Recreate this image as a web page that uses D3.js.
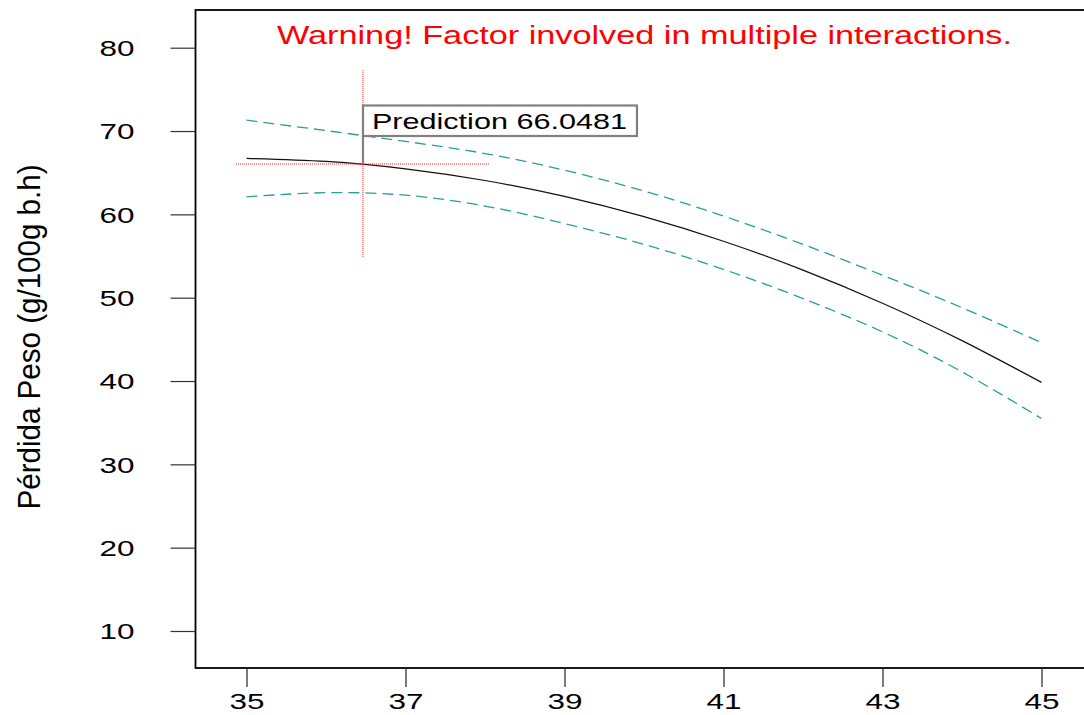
<!DOCTYPE html>
<html>
<head>
<meta charset="utf-8">
<script src="https://cdn.jsdelivr.net/npm/d3@7"></script>
<style>
  html, body { margin: 0; padding: 0; background: #fff; }
  svg { display: block; }
  text { font-family: Arial, "Liberation Sans", sans-serif; }
</style>
</head>
<body>
<svg id="chart" width="1084" height="715"></svg>
<script>
// Factor levels along the x axis
const xValues = [35, 36, 37, 38, 39, 40, 41, 42, 43, 44, 45];
// Predicted response and its confidence band
const predicted = [66.72, 66.35, 65.46, 64.06, 62.15, 59.72, 56.77, 53.31, 49.34, 44.85, 39.84];
const upperBand = [71.3, 70.05, 68.75, 67.3, 65.3, 62.8, 59.8, 56.4, 52.7, 48.8, 44.6];
const lowerBand = [62.1, 62.6, 62.3, 61.0, 58.9, 56.4, 53.4, 49.9, 45.9, 41.1, 35.5];
// Probed point
const probeX = 36.465;
const probeY = 66.0481;
// Axis ticks
const xTicks = [35, 37, 39, 41, 43, 45];
const yTicks = [10, 20, 30, 40, 50, 60, 70, 80];

const titleText = "Warning! Factor involved in multiple interactions.";
const yAxisTitle = "Pérdida Peso (g/100g b.h)";

const svg = d3.select("#chart");

const frame = { left: 195.5, top: 10, bottom: 668, right: 1200 };

const x = d3.scaleLinear().domain([35, 45]).range([246.5, 1041.5]);
const y = d3.scaleLinear().domain([10, 80]).range([631, 47.7]);

// Plot frame (right side runs past the page edge)
svg.append("rect")
  .attr("x", frame.left).attr("y", frame.top)
  .attr("width", frame.right - frame.left).attr("height", frame.bottom - frame.top)
  .attr("fill", "none").attr("stroke", "#000").attr("stroke-width", 1.8);

// Y axis
const yAxis = svg.append("g")
  .attr("transform", `translate(${frame.left},0)`)
  .call(d3.axisLeft(y).tickValues(yTicks).tickSize(25).tickPadding(36).tickFormat(d3.format("d")));
yAxis.select(".domain").remove();
yAxis.selectAll(".tick line").attr("stroke", "#333").attr("stroke-width", 1.2);
yAxis.selectAll(".tick text")
  .attr("font-size", 22).attr("fill", "#000")
  .attr("textLength", 35).attr("lengthAdjust", "spacingAndGlyphs")
  .attr("dy", "0.36em");

// X axis
const xAxis = svg.append("g")
  .attr("transform", `translate(0,${frame.bottom})`)
  .call(d3.axisBottom(x).tickValues(xTicks).tickSize(19).tickPadding(8).tickFormat(d3.format("d")));
xAxis.select(".domain").remove();
xAxis.selectAll(".tick line").attr("stroke", "#222").attr("stroke-width", 1.2);
xAxis.selectAll(".tick text")
  .attr("font-size", 21.5).attr("fill", "#000")
  .attr("textLength", 35).attr("lengthAdjust", "spacingAndGlyphs")
  .attr("dy", "0.64em");

// Y axis title
svg.append("text")
  .attr("transform", "translate(40,337) rotate(-90)")
  .attr("text-anchor", "middle")
  .attr("font-size", 32)
  .attr("textLength", 345).attr("lengthAdjust", "spacingAndGlyphs")
  .attr("fill", "#000")
  .text(yAxisTitle);

// Warning title
svg.append("text")
  .attr("x", 277).attr("y", 43.5)
  .attr("font-size", 25)
  .attr("textLength", 735).attr("lengthAdjust", "spacingAndGlyphs")
  .attr("fill", "#ff0000")
  .text(titleText);

// Curves
const pts = arr => xValues.map((v, i) => [v, arr[i]]);
const line = d3.line().x(d => x(d[0])).y(d => y(d[1])).curve(d3.curveNatural);

svg.append("path").datum(pts(upperBand)).attr("d", line)
  .attr("fill", "none").attr("stroke", "#2a9d9d").attr("stroke-width", 1.3)
  .attr("stroke-dasharray", "11,6");
svg.append("path").datum(pts(lowerBand)).attr("d", line)
  .attr("fill", "none").attr("stroke", "#2a9d9d").attr("stroke-width", 1.3)
  .attr("stroke-dasharray", "11,6");
svg.append("path").datum(pts(predicted)).attr("d", line)
  .attr("fill", "none").attr("stroke", "#111").attr("stroke-width", 1.2);

// Crosshair at the probed point
const px = x(probeX), py = y(probeY);
svg.append("line")
  .attr("x1", px).attr("x2", px).attr("y1", py - 94).attr("y2", py + 93)
  .attr("stroke", "#ff2020").attr("stroke-width", 1).attr("stroke-dasharray", "1,1");
svg.append("line")
  .attr("x1", px - 127).attr("x2", px + 127).attr("y1", py).attr("y2", py)
  .attr("stroke", "#ff2020").attr("stroke-width", 1).attr("stroke-dasharray", "1,1");

// Prediction callout
const boxTop = 105.5, boxH = 30.5, boxW = 274;
svg.append("line")
  .attr("x1", px).attr("x2", px).attr("y1", boxTop + boxH).attr("y2", py)
  .attr("stroke", "#808080").attr("stroke-width", 2.2);
svg.append("rect")
  .attr("x", px).attr("y", boxTop).attr("width", boxW).attr("height", boxH)
  .attr("fill", "#fff").attr("stroke", "#808080").attr("stroke-width", 2.2);
svg.append("text")
  .attr("x", px + 9).attr("y", boxTop + 23.5)
  .attr("font-size", 21.5)
  .attr("textLength", 255).attr("lengthAdjust", "spacingAndGlyphs")
  .attr("fill", "#000")
  .text("Prediction " + d3.format(".4f")(probeY));
</script>
</body>
</html>
